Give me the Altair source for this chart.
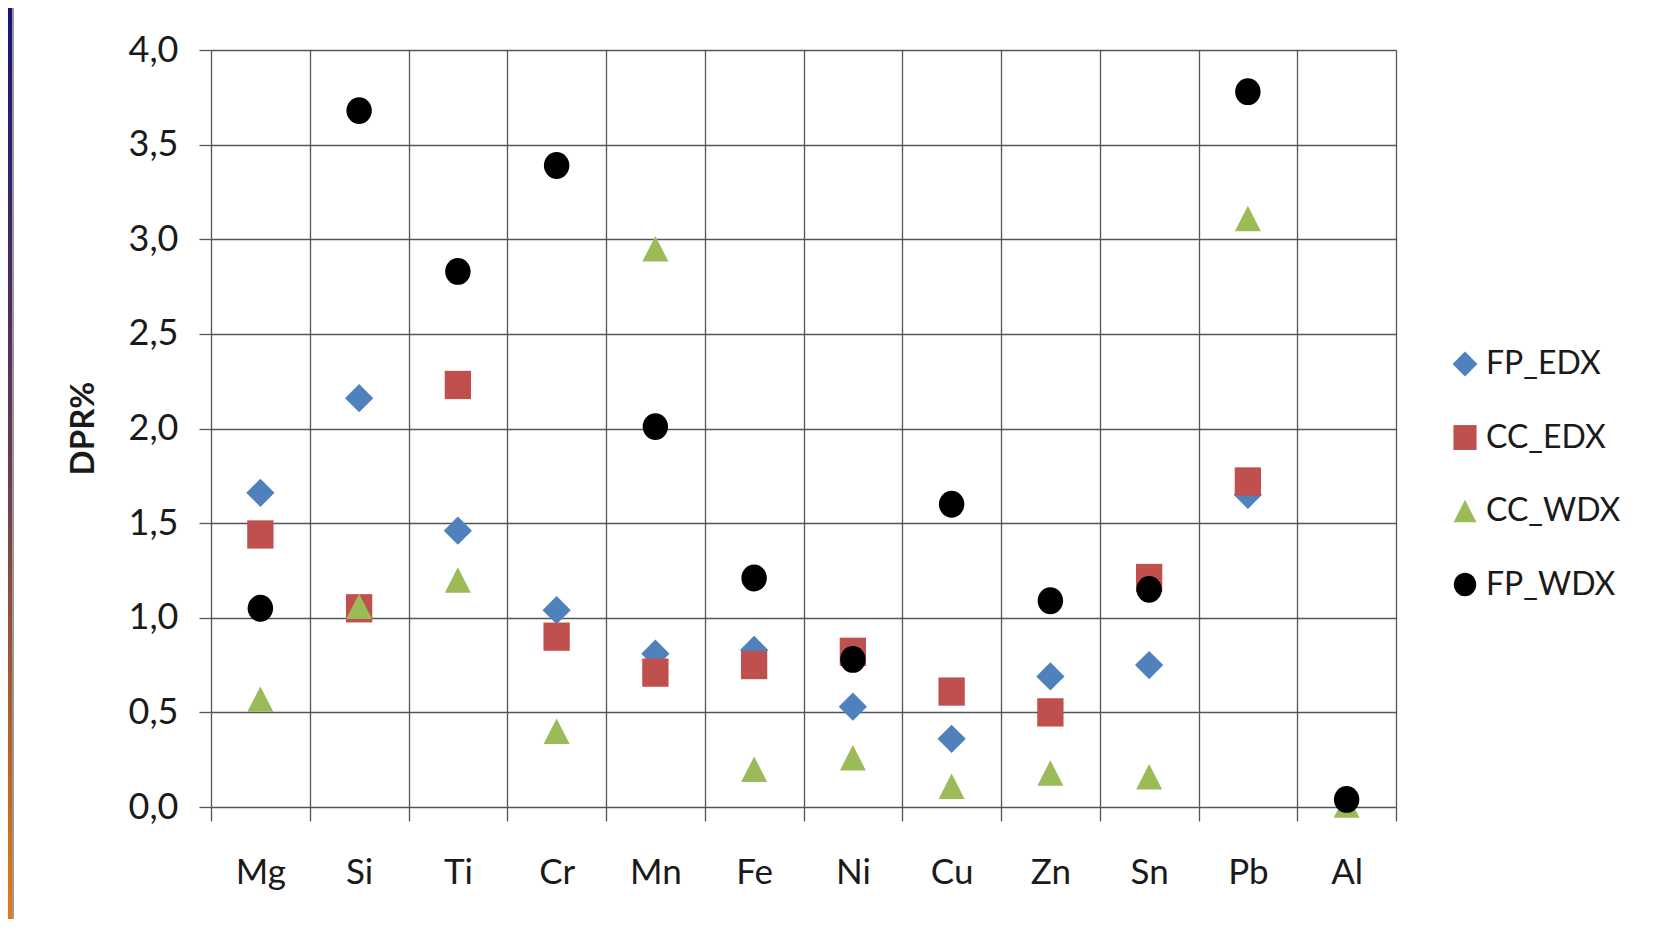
import altair as alt
import pandas as pd

elements = ["Mg", "Si", "Ti", "Cr", "Mn", "Fe", "Ni", "Cu", "Zn", "Sn", "Pb", "Al"]
series = ["FP_EDX", "CC_EDX", "CC_WDX", "FP_WDX"]

fp_edx = [1.66, 2.16, 1.46, 1.04, 0.81, 0.83, 0.53, 0.36, 0.69, 0.75, 1.65, None]
cc_edx = [1.44, 1.05, 2.23, 0.90, 0.71, 0.75, 0.82, 0.61, 0.50, 1.21, 1.72, None]
cc_wdx = [0.57, 1.06, 1.20, 0.40, 2.95, 0.20, 0.26, 0.11, 0.18, 0.16, 3.11, 0.01]
fp_wdx = [1.05, 3.68, 2.83, 3.39, 2.01, 1.21, 0.78, 1.60, 1.09, 1.15, 3.78, 0.04]

y_ticks = [0.0, 0.5, 1.0, 1.5, 2.0, 2.5, 3.0, 3.5, 4.0]

colors = ["#4F81BD", "#C0504D", "#9BBB59", "#000000"]
shapes = [
    "M-1,0L0,-1.0L1,0L0,1.0Z",
    "M-0.93,-1.0L0.93,-1.0L0.93,1.0L-0.93,1.0Z",
    "M0,-0.9L0.92,0.9L-0.92,0.9Z",
    "M-0.9,0A0.9,0.95 0 1,1 0.9,0A0.9,0.95 0 1,1 -0.9,0Z",
]

rows = []
for s, vals in zip(series, [fp_edx, cc_edx, cc_wdx, fp_wdx]):
    for e, v in zip(elements, vals):
        if v is not None:
            rows.append({"element": e, "series": s, "value": v})
df = pd.DataFrame(rows)

FONT = "Lato"
TXT = "#1a1a1a"
GRID = "#555555"

legend = alt.Legend(
    title=None,
    orient="none",
    legendX=1238,
    legendY=298,
    symbolSize=620,
    symbolStrokeWidth=0,
    labelFont=FONT,
    labelFontSize=32,
    labelColor=TXT,
    labelOffset=5,
    rowPadding=41.5,
    padding=0,
)

points = alt.Chart(df).mark_point(
    filled=True, opacity=1, size=800, strokeWidth=0
).encode(
    x=alt.X(
        "element:N",
        sort=elements,
        scale=alt.Scale(type="band", paddingInner=0, paddingOuter=0),
        axis=alt.Axis(
            title=None,
            labelAngle=0,
            tickBand="extent",
            grid=True,
            gridColor=GRID,
            gridWidth=1.3,
            domain=False,
            ticks=True,
            tickSize=14,
            tickColor=GRID,
            tickWidth=1.3,
            labelFont=FONT,
            labelFontSize=35,
            labelColor=TXT,
            labelPadding=34,
        ),
    ),
    y=alt.Y(
        "value:Q",
        scale=alt.Scale(domain=[0, 4], nice=False, zero=True),
        axis=alt.Axis(
            title="DPR%",
            values=y_ticks,
            labelExpr="replace(format(datum.value, '.1f'), '.', ',')",
            grid=True,
            gridColor=GRID,
            gridWidth=1.3,
            domain=False,
            ticks=True,
            tickSize=12,
            tickColor=GRID,
            tickWidth=1.3,
            labelFont=FONT,
            labelFontSize=36,
            labelColor=TXT,
            labelPadding=21,
            titleFont=FONT,
            titleFontSize=33,
            titleFontWeight="bold",
            titleColor=TXT,
            titleAngle=-90,
            titleAlign="center",
            titleBaseline="alphabetic",
            titleX=-118,
            titleY=378,
        ),
    ),
    color=alt.Color(
        "series:N",
        sort=series,
        scale=alt.Scale(domain=series, range=colors),
        legend=legend,
    ),
    shape=alt.Shape(
        "series:N",
        sort=series,
        scale=alt.Scale(domain=series, range=shapes),
        legend=legend,
    ),
)

frame_df = pd.DataFrame({"k": [0]})
border = alt.Chart(frame_df).mark_rect(
    clip=False,
    fill=alt.LinearGradient(
        gradient="linear",
        stops=[
            alt.GradientStop(color="#14147a", offset=0),
            alt.GradientStop(color="#6a3a50", offset=0.5),
            alt.GradientStop(color="#e67e0e", offset=1),
        ],
        x1=0, x2=0, y1=0, y2=1,
    ),
).encode(
    x=alt.value(-203), x2=alt.value(-199), y=alt.value(-42), y2=alt.value(880)
)
border_gray = alt.Chart(frame_df).mark_rect(clip=False, color="#9a9a9a").encode(
    x=alt.value(-199), x2=alt.value(-197), y=alt.value(-42), y2=alt.value(880)
)

chart = alt.layer(border, border_gray, points).properties(
    width=1185,
    height=757,
    autosize=alt.AutoSizeParams(type="none"),
    padding={"left": 203, "top": 42, "right": 250, "bottom": 112},
    background="white",
).configure_view(stroke=None)

chart.save("out.html", embed_options={"renderer": "svg", "actions": False})
